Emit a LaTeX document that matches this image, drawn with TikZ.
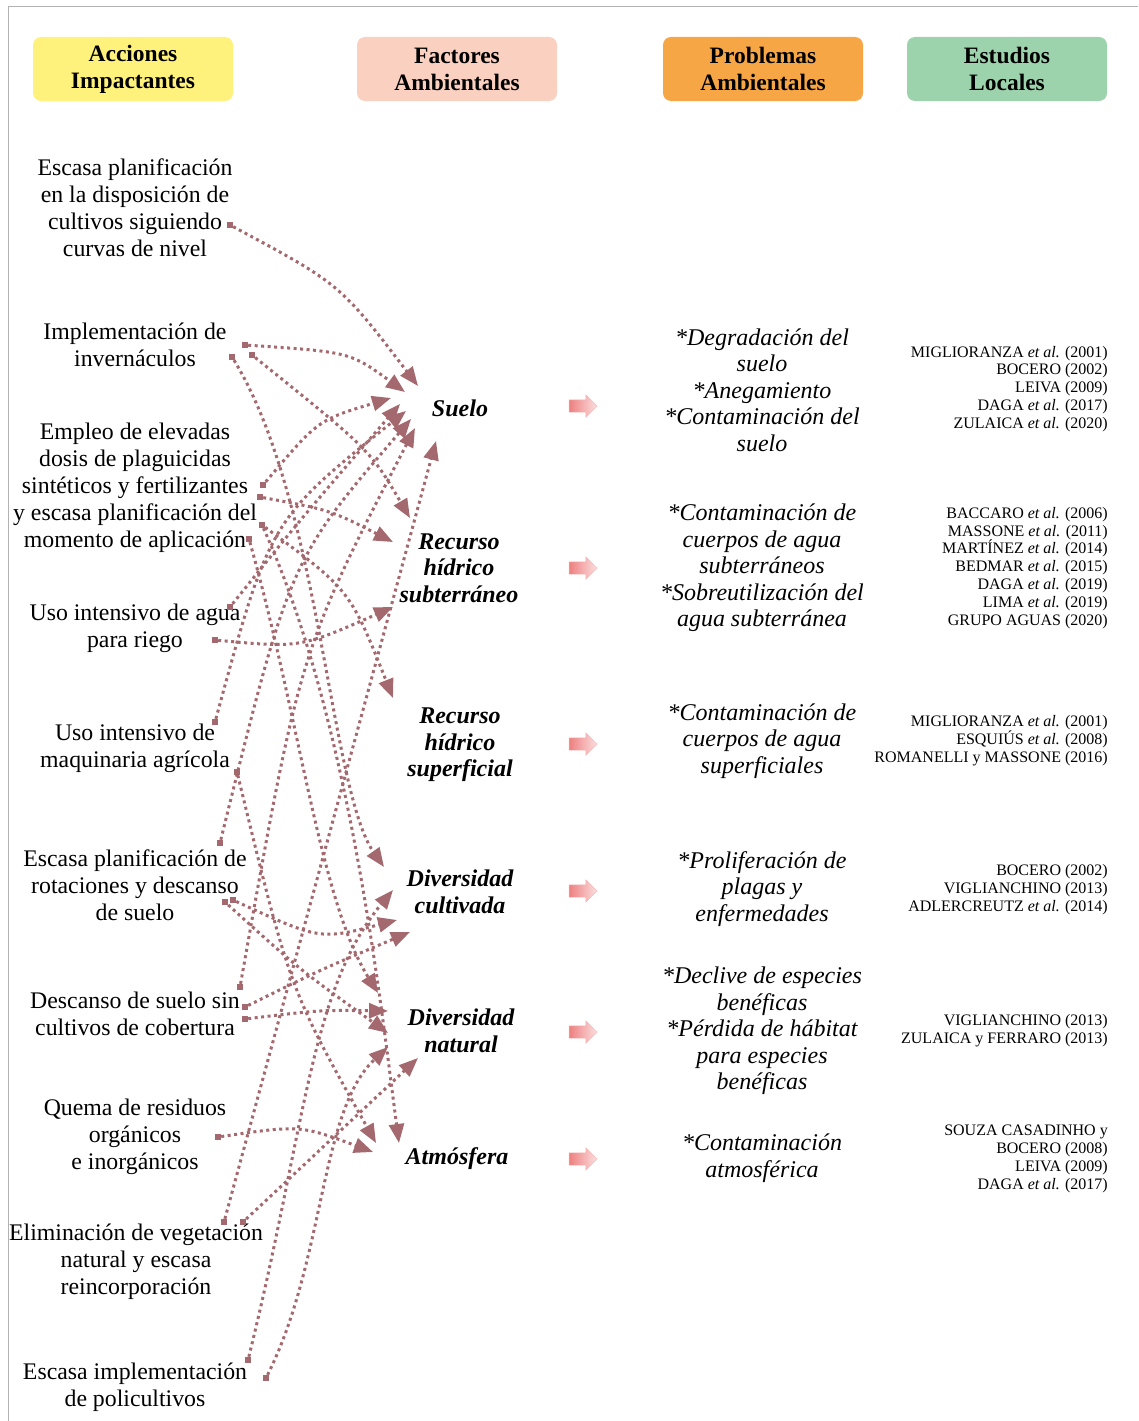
\documentclass[tikz,border=0pt]{standalone}
\usepackage{fontspec}
\setmainfont{Liberation Serif}
\usetikzlibrary{arrows.meta,shapes.arrows}
\newcommand{\etal}{\textit{et al.}}
\definecolor{arrcol}{HTML}{A4696E}
\definecolor{accbox}{HTML}{FFF27C}
\definecolor{facbox}{HTML}{FAD0C0}
\definecolor{probox}{HTML}{F7A645}
\definecolor{estbox}{HTML}{9DD3AC}
\definecolor{pinkarr}{HTML}{EE8080}
\tikzset{
  header/.style={rounded corners=8pt, minimum width=200pt, minimum height=64pt, align=center, font=\fontsize{23.5}{27}\selectfont\bfseries},
  accion/.style={align=center, font=\fontsize{23.8}{27}\selectfont},
  factor/.style={align=center, font=\fontsize{24}{26.5}\selectfont\bfseries\itshape},
  problema/.style={align=center, font=\fontsize{24}{26.5}\selectfont\itshape},
  estudio/.style={anchor=east, inner xsep=0pt, align=right, font=\fontsize{16}{17.9}\selectfont},
  pinkarrow/.style={single arrow, draw=pinkarr!60, left color=pinkarr, right color=pinkarr!25, minimum height=28pt, inner xsep=0pt, inner ysep=6pt, single arrow head extend=5pt},
  origen/.style={fill=arrcol, minimum size=6pt, inner sep=0pt},
  conn/.style={arrcol, line width=3pt, dash pattern=on 3pt off 3.5pt, -{Triangle[length=19pt,width=15pt]}}
}
\begin{document}
\begin{tikzpicture}[x=1pt,y=-1pt]
\useasboundingbox (0,0) rectangle (1138,1421);
\draw [gray!60, line width=1pt] (8,1421)--(8,7)--(1138,7);

\node[header, fill=accbox] (hacc) at (133,69) {Acciones\\Impactantes};
\node[header, fill=facbox] (hfac) at (457,69) {Factores\\Ambientales};
\node[header, fill=probox] (hpro) at (763,69) {Problemas\\Ambientales};
\node[header, fill=estbox] (hest) at (1007,69) {Estudios\\Locales};

\node[accion] (a1) at (135,208) {Escasa planificación\\en la disposición de\\cultivos siguiendo\\curvas de nivel};
\node[accion] (a2) at (135,345) {Implementación de\\invernáculos};
\node[accion] (a3) at (135,488) {Empleo de elevadas\\dosis de plaguicidas\\sintéticos y fertilizantes\\y escasa planificación del\\momento de aplicación};
\node[accion] (a4) at (135,628) {Uso intensivo de agua\\para riego};
\node[accion] (a5) at (135,748) {Uso intensivo de\\maquinaria agrícola};
\node[accion] (a6) at (135,885) {Escasa planificación de\\rotaciones y descanso\\de suelo};
\node[accion] (a7) at (135,1014) {Descanso de suelo sin\\cultivos de cobertura};
\node[accion] (a8) at (135,1137) {Quema de residuos\\orgánicos\\e inorgánicos};
\node[accion] (a9) at (136,1262) {Eliminación de vegetación\\natural y escasa\\reincorporación};
\node[accion] (a10) at (135,1387) {Escasa implementación\\de policultivos};

\node[factor] (fsuelo) at (460,408) {Suelo};
\node[factor] (fsubt) at (459,568) {Recurso\\hídrico\\subterráneo};
\node[factor] (fsup) at (460,745) {Recurso\\hídrico\\superficial};
\node[factor] (fcult) at (460,892) {Diversidad\\cultivada};
\node[factor] (fnat) at (461,1031) {Diversidad\\natural};
\node[factor] (fatm) at (457,1159) {Atmósfera};

\node[pinkarrow] (pa1) at (580,406) {};
\node[pinkarrow] (pa2) at (580,568) {};
\node[pinkarrow] (pa3) at (580,744) {};
\node[pinkarrow] (pa4) at (580,891) {};
\node[pinkarrow] (pa5) at (580,1032) {};
\node[pinkarrow] (pa6) at (580,1159) {};

\node[problema] (p1) at (762,390) {*Degradación del\\suelo\\*Anegamiento\\*Contaminación del\\suelo};
\node[problema] (p2) at (762,568) {*Contaminación de\\cuerpos de agua\\subterráneos\\*Sobreutilización del\\agua subterránea};
\node[problema] (p3) at (762,741) {*Contaminación de\\cuerpos de agua\\superficiales};
\node[problema] (p4) at (762,889) {*Proliferación de\\plagas y\\enfermedades};
\node[problema] (p5) at (762,1031) {*Declive de especies\\benéficas\\*Pérdida de hábitat\\para especies\\benéficas};
\node[problema] (p6) at (762,1158) {*Contaminación\\atmosférica};

\node[estudio] (e1) at (1108,389) {MIGLIORANZA \etal{} (2001)\\BOCERO (2002)\\LEIVA (2009)\\DAGA \etal{} (2017)\\ZULAICA \etal{} (2020)};
\node[estudio] (e2) at (1108,568) {BACCARO \etal{} (2006)\\MASSONE \etal{} (2011)\\MARTÍNEZ \etal{} (2014)\\BEDMAR \etal{} (2015)\\DAGA \etal{} (2019)\\LIMA \etal{} (2019)\\GRUPO AGUAS (2020)};
\node[estudio] (e3) at (1108,741) {MIGLIORANZA \etal{} (2001)\\ESQUIÚS \etal{} (2008)\\ROMANELLI y MASSONE (2016)};
\node[estudio] (e4) at (1108,890) {BOCERO (2002)\\VIGLIANCHINO (2013)\\ADLERCREUTZ \etal{} (2014)};
\node[estudio] (e5) at (1108,1031) {VIGLIANCHINO (2013)\\ZULAICA y FERRARO (2013)};
\node[estudio] (e6) at (1108,1159) {SOUZA CASADINHO y\\BOCERO (2008)\\LEIVA (2009)\\DAGA \etal{} (2017)};

\node[origen] (s1) at (230,225) {};
\node[origen] (s2a) at (245,345) {};
\node[origen] (s2b) at (252,355) {};
\node[origen] (s2c) at (232,357) {};
\node[origen] (s3a) at (263,485) {};
\node[origen] (s3b) at (260,497) {};
\node[origen] (s3c) at (262,525) {};
\node[origen] (s3d) at (249,539) {};
\node[origen] (s4a) at (230,607) {};
\node[origen] (s4b) at (215,640) {};
\node[origen] (s5a) at (215,722) {};
\node[origen] (s5b) at (237,772) {};
\node[origen] (s6a) at (220,843) {};
\node[origen] (s6b) at (225,902) {};
\node[origen] (s6c) at (233,900) {};
\node[origen] (s7a) at (240,987) {};
\node[origen] (s7b) at (245,1007) {};
\node[origen] (s7c) at (245,1019) {};
\node[origen] (s8) at (218,1137) {};
\node[origen] (s9a) at (224,1222) {};
\node[origen] (s9b) at (243,1222) {};
\node[origen] (s10a) at (248,1360) {};
\node[origen] (s10b) at (266,1378) {};

\coordinate (su1) at (418,386);
\coordinate (su2) at (405,392);
\coordinate (su3) at (391,398);
\coordinate (su4) at (400,404);
\coordinate (su5) at (406,411);
\coordinate (su6) at (411,419);
\coordinate (su7) at (415,428);
\coordinate (su8) at (436,441);
\coordinate (sb1) at (410,518);
\coordinate (sb2) at (393,542);
\coordinate (sb3) at (393,607);
\coordinate (sp1) at (393,698);
\coordinate (cu1) at (384,867);
\coordinate (cu2) at (393,890);
\coordinate (cu3) at (397,920);
\coordinate (cu4) at (410,932);
\coordinate (na1) at (378,993);
\coordinate (na2) at (388,1011);
\coordinate (na3) at (388,1033);
\coordinate (na4) at (388,1047);
\coordinate (na5) at (418,1058);
\coordinate (at1) at (376,1143);
\coordinate (at2) at (399,1143);
\coordinate (at3) at (373,1152);

\draw [conn] (s1) .. controls (340,284) .. (su1);
\draw [conn] (s2a) .. controls (350,352) .. (su2);
\draw [conn] (s3a) .. controls (318,420) .. (su3);
\draw [conn] (s4a) .. controls (300,520) .. (su4);
\draw [conn] (s5a) .. controls (270,520) .. (su5);
\draw [conn] (s6a) .. controls (290,560) .. (su6);
\draw [conn] (s7a) .. controls (300,650) .. (su7);
\draw [conn] (s9a) -- (su8);
\draw [conn] (s2b) .. controls (370,450) .. (sb1);
\draw [conn] (s3b) .. controls (330,510) .. (sb2);
\draw [conn] (s4b) .. controls (300,648) .. (sb3);
\draw [conn] (s3c) .. controls (350,590) .. (sp1);
\draw [conn] (s2c) .. controls (320,500) and (330,790) .. (cu1);
\draw [conn] (s10a) .. controls (305,1130) and (310,990) .. (cu2);
\draw [conn] (s6c) .. controls (320,940) .. (cu3);
\draw [conn] (s7b) .. controls (320,970) .. (cu4);
\draw [conn] (s3d) .. controls (300,720) and (320,900) .. (na1);
\draw [conn] (s7c) .. controls (320,1010) .. (na2);
\draw [conn] (s6b) .. controls (300,970) .. (na3);
\draw [conn] (s10b) .. controls (325,1260) and (320,1110) .. (na4);
\draw [conn] (s9b) -- (na5);
\draw [conn] (s5b) .. controls (290,990) .. (at1);
\draw [conn] (s3c) .. controls (350,720) and (380,1000) .. (at2);
\draw [conn] (s8) .. controls (300,1125) .. (at3);
\end{tikzpicture}
\end{document}
